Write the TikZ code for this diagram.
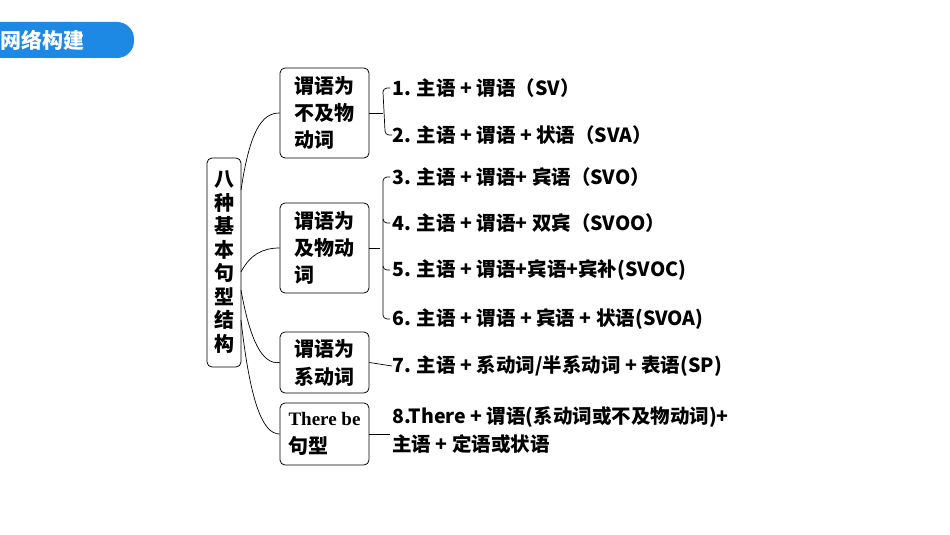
\documentclass[tikz,border=0pt]{standalone}
\usepackage{fontspec}
\setmainfont{Noto Sans CJK SC}
\newfontfamily\serif{Liberation Serif}
\begin{document}
\begin{tikzpicture}[x=1pt,y=-1pt,
  box/.style={draw,rounded corners=5pt,line width=0.8pt,inner sep=0pt},
  lbl/.style={anchor=west,font=\bfseries\fontsize{19.5}{21}\selectfont,inner sep=0pt},
  btxt/.style={font=\bfseries\fontsize{20}{27}\selectfont,align=left,inner sep=0pt},
  con/.style={line width=0.7pt}]
\useasboundingbox (0,0) rectangle (950,535);
\fill[fill={rgb,255:red,30;green,136;blue,229},rounded corners=17pt] (-20,22) rectangle (134,58);
\node[text=white,font=\bfseries\fontsize{21}{23}\selectfont,anchor=west] (ban) at (-3,40) {网络构建};
% boxes
\node[box,minimum width=34,minimum height=209] (L) at (224,262.5) {};
\node[btxt,align=center,font=\bfseries\fontsize{20}{23.5}\selectfont] (Lt) at (224,262) {八\\种\\基\\本\\句\\型\\结\\构};
\node[box,minimum width=89,minimum height=90] (b1) at (324.5,113) {};
\node[btxt] (b1t) at (324.5,113) {谓语为\\不及物\\动词};
\node[box,minimum width=89,minimum height=90] (b2) at (324.5,248) {};
\node[btxt] (b2t) at (324.5,248) {谓语为\\及物动\\词};
\node[box,minimum width=89,minimum height=61] (b3) at (324.5,362.5) {};
\node[btxt,font=\bfseries\fontsize{20}{28}\selectfont] (b3t) at (324.5,363) {谓语为\\系动词};
\node[box,minimum width=89,minimum height=62] (b4) at (324.5,434) {};
\node[btxt,font=\bfseries\fontsize{20}{28}\selectfont] (b4t) at (324.5,434) {{\serif\fontsize{19}{28}\selectfont There be}\\句型};
% curves
\draw[con] (241,190) .. controls (250,130) and (262,113) .. (b1.west);
\draw[con] (241,272) .. controls (250,255) and (262,248) .. (b2.west);
\draw[con] (241,290) .. controls (250,340) and (262,365) .. (b3.west);
\draw[con] (241,320) .. controls (250,400) and (262,434) .. (b4.west);
% items
\node[lbl] (i1) at (392,88) {1. 主语 + 谓语（SV）};
\node[lbl] (i2) at (392,135) {2. 主语 + 谓语 + 状语（SVA）};
\node[lbl] (i3) at (392,177) {3. 主语 + 谓语+ 宾语（SVO）};
\node[lbl] (i4) at (392,223) {4. 主语 + 谓语+ 双宾（SVOO）};
\node[lbl] (i5) at (392,270) {5. 主语 + 谓语+宾语+宾补(SVOC)};
\node[lbl] (i6) at (392,319) {6. 主语 + 谓语 + 宾语 + 状语(SVOA)};
\node[lbl] (i7) at (392,366) {7. 主语 + 系动词/半系动词 + 表语(SP)};
\node[lbl] (i8) at (392,417) {8.There + 谓语(系动词或不及物动词)+};
\node[lbl] (i8b) at (392,444) {主语 + 定语或状语};
% brackets
\draw[con] (b1.east) -- (383,113);
\draw[con] (i1.west) ++(-2,0) -- ++(-3,0) arc[start angle=-90,end angle=-180,radius=4] -- (385,131) arc[start angle=180,end angle=90,radius=4] -- ++(3,0);
\draw[con] (b2.east) -- (380,248);
\draw[con] (i3.west) ++(-2,0) -- ++(-3,0) arc[start angle=-90,end angle=-180,radius=4] -- (383,315) arc[start angle=180,end angle=90,radius=4] -- ++(3,0);
\draw[con] (383,219) arc[start angle=180,end angle=90,radius=4] -- ++(3,0);
\draw[con] (383,266) arc[start angle=180,end angle=90,radius=4] -- ++(3,0);
\draw[con] (b3.east) -- (i7.west);
\draw[con] (b4.east) -- (390,434);
\end{tikzpicture}
\end{document}
